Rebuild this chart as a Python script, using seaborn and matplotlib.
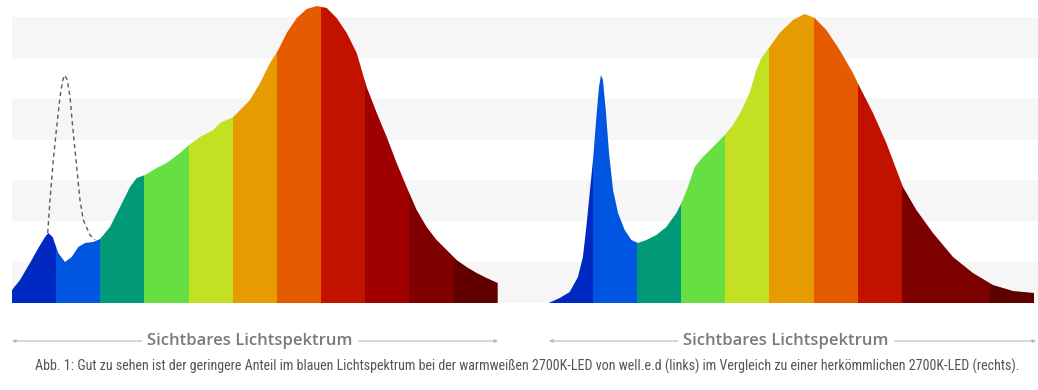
import numpy as np
import matplotlib
matplotlib.use("Agg")
import matplotlib.pyplot as plt
from matplotlib.patches import Polygon
import seaborn as sns

# Wellenlaengen (nm) und relative Hoehe der beiden Spektren
links_nm = [380, 386.6, 394.8, 401.7, 407.2, 409.9, 413.5, 418.1, 423.6, 429.2, 434.6,
            440.1, 447, 452.5, 460.7, 469, 477.2, 482.7, 489.5, 499.2, 507.4, 518.4,
            525.8, 534.8, 545.8, 551.3, 562.3, 576, 584.3, 592.5, 599.3, 606.2, 614.5,
            622.7, 631, 639.2, 647.4, 655.7, 663.9, 672.1, 680.4, 688.6, 696.8, 705,
            713.3, 721.5, 729.7, 738, 746.2, 754.4, 762.7, 770.9, 780]
links_h = [13, 23, 40, 55, 66, 70, 66, 50, 41, 46, 56,
           60, 61, 64, 76, 96, 116, 125, 128, 135, 140, 150,
           158, 166, 173, 180, 186, 203, 220, 240, 253, 270, 285,
           294, 297, 295, 285, 270, 250, 216, 190, 166, 140, 116,
           93, 76, 63, 53, 43, 36, 30, 25, 20]

# gestrichelte Kurve (herkoemmlicher Blauanteil)
gestrichelt_nm = [409.4, 411.3, 414, 416.8, 419.5, 421.8, 423.6, 425.5, 427.8, 430,
                  432.7, 436, 438.7, 444.2, 448.4]
gestrichelt_h = [70, 103, 143, 176, 206, 223, 228, 223, 206, 176,
                 143, 103, 83, 68, 63]

rechts_nm = [380, 389.1, 397.3, 404.1, 408.2, 411, 413.8, 416.5, 419.3, 421.4, 423.1,
             424.7, 427, 429.7, 433, 437.1, 442.6, 448.1, 453.5, 460.5, 468.7, 476.9,
             485.2, 489.3, 494.7, 500.2, 507.1, 515.3, 525, 531.8, 537.3, 545.5, 551,
             555.2, 562, 570.2, 581.2, 590.8, 599.1, 608.7, 619.7, 630.6, 636.2, 647.1,
             658.1, 671.8, 682.8, 696.5, 713, 729.4, 745.9, 762.4, 780]
rechts_h = [0, 5, 11, 26, 46, 76, 110, 143, 186, 216, 228,
            223, 193, 150, 113, 90, 73, 63, 60, 63, 68, 76,
            90, 100, 116, 136, 146, 156, 168, 178, 189, 210, 233,
            245, 256, 270, 283, 289, 285, 273, 253, 230, 216, 190,
            160, 116, 93, 70, 46, 30, 18, 12, 10]

# Farbbaender
baender_links = ['#0029c2', '#0056e0', '#009a79', '#66df42', '#c4e022', '#e69b00',
                 '#e65b00', '#c11200', '#a00000', '#800000', '#600000']
baender_rechts = ['#0029c2', '#0056e0', '#009a79', '#66df42', '#c4e022', '#e69b00',
                  '#e65b00', '#c11200', '#7c0000', '#7c0000', '#5c0000']

streifen = [(0, 41), (82, 123), (163, 205), (245, 286)]

versatz = 442  # Abstand des rechten Diagramms auf der x-Achse

sns.set_theme(style='white')
plt.rcParams['font.family'] = ['Open Sans', 'DejaVu Sans']

fig = plt.figure(figsize=(10.38, 3.9), dpi=100)
ax = fig.add_axes([12 / 1038, 87 / 390, 1026 / 1038, 303 / 390])
ax.set_xlim(380, 1225)
ax.set_ylim(0, 303)
ax.axis('off')

for unten, oben in streifen:
    ax.axhspan(unten, oben, color='#f6f6f6', lw=0, zorder=0)

kanten = np.linspace(380, 780, 12)


def spektrum(nm, h, farben, dx):
    nm = np.array(nm) + dx
    punkte = [(nm[0], 0)] + list(zip(nm, h)) + [(nm[-1], 0)]
    form = Polygon(punkte, closed=True, fill=False, lw=0, transform=ax.transData)
    ax.add_patch(form)
    balken = ax.bar(kanten[:-1] + dx, 303, width=np.diff(kanten), align='edge',
                    color=farben, linewidth=0, zorder=2)
    for b in balken:
        b.set_clip_path(form)


spektrum(links_nm, links_h, baender_links, 0)
spektrum(rechts_nm, rechts_h, baender_rechts, versatz)

sns.lineplot(x=gestrichelt_nm, y=gestrichelt_h, ax=ax, color='#5a5a5a', lw=1,
             linestyle=(0, (3, 2.5)), zorder=1, sort=False)

# Pfeile unter den Diagrammen
for x0, x1, xt in [(12, 498, 250), (549, 1036, 786)]:
    ax.annotate('', xy=(x0, 49), xytext=(x1, 49), xycoords='figure pixels',
                textcoords='figure pixels',
                arrowprops=dict(arrowstyle='<|-|>', color='#b8b8b8', lw=0.8,
                                mutation_scale=5, shrinkA=0, shrinkB=0))
    fig.text(xt / 1038, 49 / 390, 'Sichtbares Lichtspektrum',
             ha='center', va='center', fontsize=12, fontweight='semibold',
             color='#7a7a7a',
             bbox=dict(facecolor='white', edgecolor='none', pad=4))

fig.text(527 / 1038, 24 / 390,
         'Abb. 1: Gut zu sehen ist der geringere Anteil im blauen Lichtspektrum bei der '
         'warmweißen 2700K-LED von well.e.d (links) im Vergleich zu einer herkömmlichen '
         '2700K-LED (rechts).',
         ha='center', va='center', fontsize=10.1, color='#555555',
         family=['Roboto Condensed', 'Roboto', 'DejaVu Sans'])

fig.savefig('out.png', dpi=100)
